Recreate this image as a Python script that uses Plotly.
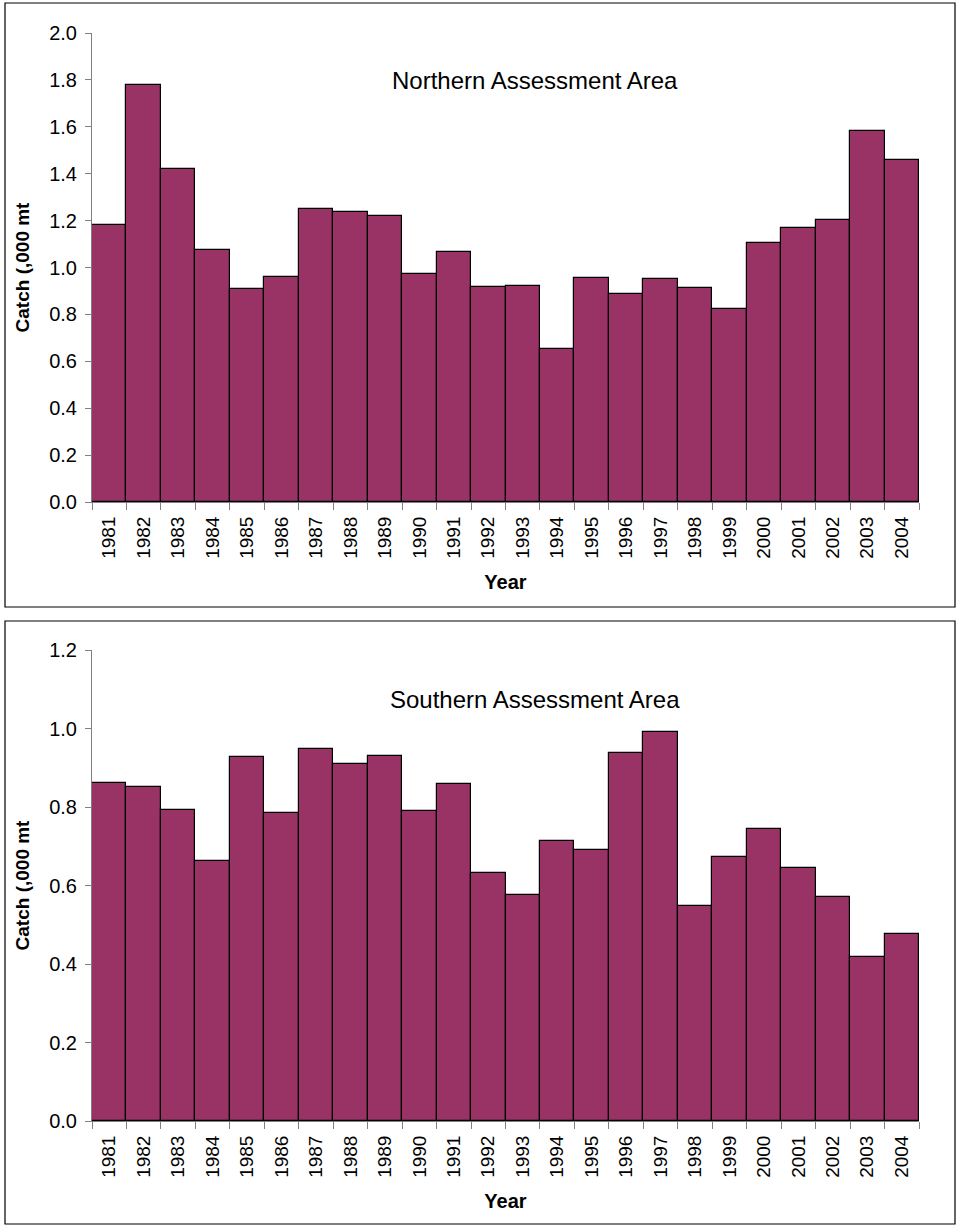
import plotly.graph_objects as go

years = [str(y) for y in range(1981, 2005)]
northern_catch = [1.18, 1.78, 1.42, 1.075, 0.91, 0.96, 1.25, 1.237, 1.22, 0.973, 1.066, 0.917,
                  0.92, 0.652, 0.955, 0.888, 0.95, 0.912, 0.823, 1.105, 1.168, 1.204, 1.582, 1.457]
southern_catch = [0.861, 0.852, 0.793, 0.663, 0.927, 0.786, 0.948, 0.91, 0.931, 0.789, 0.859, 0.631,
                  0.576, 0.714, 0.69, 0.938, 0.991, 0.548, 0.673, 0.745, 0.645, 0.571, 0.419, 0.477]
titles = ["Northern Assessment Area", "Southern Assessment Area"]
y_max = [2.0, 1.2]

W, H = 958, 1226
BAR = "#993366"
FONT = "Arial, Liberation Sans, sans-serif"

def py(px):
    return 1 - px / H

def px_x(px):
    return px / W

fig = go.Figure()
fig.add_trace(go.Bar(x=years, y=northern_catch, marker=dict(color=BAR, line=dict(color="black", width=1.2)),
                     xaxis="x", yaxis="y", showlegend=False))
fig.add_trace(go.Bar(x=years, y=southern_catch, marker=dict(color=BAR, line=dict(color="black", width=1.2)),
                     xaxis="x2", yaxis="y2", showlegend=False))

xdom = [px_x(92), px_x(919)]
ax_common_x = dict(type="category", tickson="boundaries", ticks="outside", ticklen=7, tickcolor="#808080",
                   showline=True, linecolor="#808080", linewidth=1, tickangle=-90, showgrid=False,
                   automargin=False, ticklabelstandoff=6,
                   tickfont=dict(family=FONT, size=19, color="black"), layer="below traces",
                   title=dict(text="<b>Year</b>", font=dict(family=FONT, size=20, color="black"), standoff=17))
ax_common_y = dict(ticks="outside", ticklen=6, tickcolor="#808080", showline=True, linecolor="#808080",
                   linewidth=1, showgrid=False, zeroline=False, dtick=0.2, tickformat=".1f",
                   automargin=False,
                   tickfont=dict(family=FONT, size=20, color="black"), layer="below traces",
                   ticklabelstandoff=4,
                   title=dict(text="<b>Catch (,000 mt</b>", font=dict(family=FONT, size=19, color="black"), standoff=14))

fig.update_layout(
    width=W, height=H, margin=dict(l=0, r=0, t=0, b=0, pad=0, autoexpand=False),
    paper_bgcolor="white", plot_bgcolor="white", bargap=0,
    xaxis=dict(domain=xdom, anchor="y", **ax_common_x),
    yaxis=dict(domain=[py(502), py(33)], anchor="x", range=[0, y_max[0]], **ax_common_y),
    xaxis2=dict(domain=xdom, anchor="y2", **ax_common_x),
    yaxis2=dict(domain=[py(1121), py(650)], anchor="x2", range=[0, y_max[1]], **ax_common_y),
    shapes=[
        dict(type="rect", xref="paper", yref="paper", x0=px_x(5), x1=px_x(955), y0=py(607), y1=py(3),
             line=dict(color="black", width=1.2)),
        dict(type="rect", xref="paper", yref="paper", x0=px_x(5), x1=px_x(955), y0=py(1224), y1=py(621),
             line=dict(color="black", width=1.2)),
    ],
    annotations=[
        dict(text=titles[0], xref="paper", yref="paper", x=px_x(535), y=py(81), showarrow=False,
             xanchor="center", yanchor="middle", font=dict(family=FONT, size=24, color="black")),
        dict(text=titles[1], xref="paper", yref="paper", x=px_x(535), y=py(699), showarrow=False,
             xanchor="center", yanchor="middle", font=dict(family=FONT, size=24, color="black")),
    ],
)

post = ("document.body.style.margin='0';"
        "var d=document.getElementById('{plot_id}');"
        "d.style.position='fixed';d.style.left='0px';d.style.top='0px';")
fig.write_html("out.html", post_script=post, config={"displayModeBar": False})
